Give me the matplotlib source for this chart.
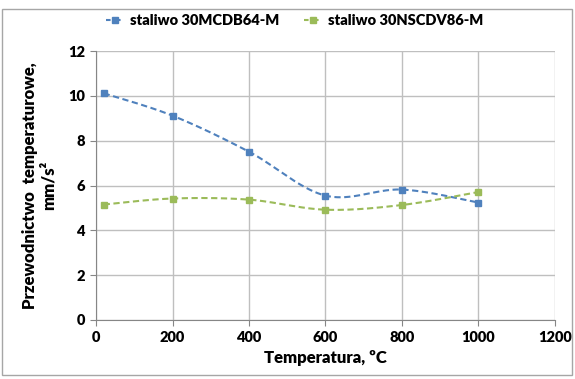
import numpy as np
import matplotlib
matplotlib.use('Agg')
import matplotlib.pyplot as plt
from matplotlib.patches import Rectangle

### . data ----

temp = [20, 200, 400, 600, 800, 1000]
s_mcdb = [10.12, 9.12, 7.51, 5.55, 5.82, 5.24]
s_nscdv = [5.15, 5.42, 5.37, 4.92, 5.13, 5.71]
labels = ['staliwo 30MCDB64-M', 'staliwo 30NSCDV86-M']

plt.rcParams['font.family'] = ['Lato', 'DejaVu Sans']
plt.rcParams['font.weight'] = 'heavy'


# . smoothed line like excel (catmull-rom as bezier) ----

def smooth(x, y, n=40):
  x = np.asarray(x, float)
  y = np.asarray(y, float)
  px = np.concatenate([[x[0]], x, [x[-1]]])
  py = np.concatenate([[y[0]], y, [y[-1]]])
  xs, ys = [], []
  t = np.linspace(0, 1, n)
  for i in range(1, len(px) - 2):
    p0 = np.array([px[i], py[i]])
    p3 = np.array([px[i + 1], py[i + 1]])
    p1 = p0 + (np.array([px[i + 1], py[i + 1]]) - np.array([px[i - 1], py[i - 1]])) / 6
    p2 = p3 - (np.array([px[i + 2], py[i + 2]]) - np.array([px[i], py[i]])) / 6
    b = ((1 - t) ** 3)[:, None] * p0 + (3 * (1 - t) ** 2 * t)[:, None] * p1 \
        + (3 * (1 - t) * t ** 2)[:, None] * p2 + (t ** 3)[:, None] * p3
    xs.extend(b[:, 0])
    ys.extend(b[:, 1])
  return xs, ys


### . plot ----

fig = plt.figure(figsize=(5.75, 3.79), dpi=100)
ax = fig.add_axes([0.167, 0.156, 0.798, 0.709])

fig.patches.append(Rectangle((0.004, 0.01), 0.99, 0.965, transform=fig.transFigure,
                             fill=False, edgecolor='#a6a6a6', linewidth=1))

for y, col, lab in zip([s_mcdb, s_nscdv], ['#4f81bd', '#9bbb59'], labels):
  sx, sy = smooth(temp, y)
  ax.plot(sx, sy, color=col, linestyle=(0, (3, 1.7)), linewidth=1.5)
  ax.plot(temp, y, color=col, linestyle='none', marker='s', markersize=5)
  # legend handle: short dash either side of the marker
  ax.plot([], [], color=col, linestyle=(0, (2.2, 2.6)), linewidth=1.5, marker='s',
          markersize=5, label=lab)

ax.set_xlim(0, 1200)
ax.set_ylim(0, 12)
ax.set_xticks(range(0, 1201, 200))
ax.set_yticks(range(0, 13, 2))
ax.grid(True, color='#bfbfbf', linewidth=1)
ax.set_axisbelow(True)
for s in ['top', 'right']:
  ax.spines[s].set_visible(False)
ax.spines['left'].set_color('#868686')
ax.spines['bottom'].set_color('#868686')
ax.tick_params(direction='out', length=4, color='#868686', labelsize=10.5, pad=4)

ax.set_xlabel('Temperatura, ºC', fontsize=12, fontweight='heavy')
ax.set_ylabel('Przewodnictwo  temperaturowe,\nmm/s²', fontsize=12,
              fontweight='heavy', labelpad=8)

fig.legend(loc='center', bbox_to_anchor=(0.513, 0.945), ncol=2, frameon=False,
           fontsize=10.5, handlelength=1.25, handletextpad=0.4, columnspacing=1.7)

fig.savefig('out.png', dpi=100)
